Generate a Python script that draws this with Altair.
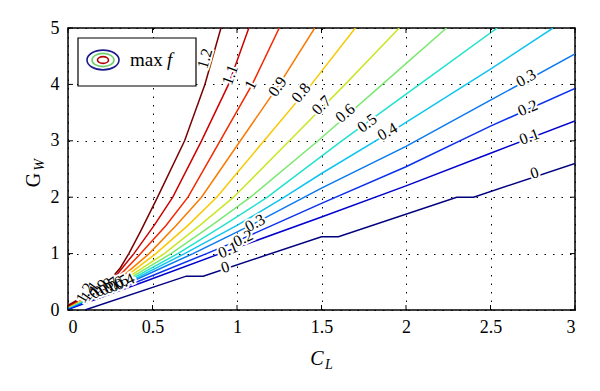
import altair as alt
import pandas as pd

# ---------------- data ----------------
level_names = ["0", "0.1", "0.2", "0.3", "0.4", "0.5", "0.6",
               "0.7", "0.8", "0.9", "1", "1.1", "1.2"]
level_colors = ["#00007F", "#0000CC", "#0A30F0", "#0A78F0", "#10C4F0", "#22E2CC",
                "#7AE870", "#CCE626", "#F8C800", "#FA7A00", "#F42800", "#CC0000", "#7A0000"]

c00_x = [0.1, 0.7, 0.8, 1.5, 1.6, 2.3, 2.4, 3.0]
c00_y = [0.0, 0.6, 0.6, 1.3, 1.3, 2.0, 2.0, 2.6]
c01_x = [0.0, 0.45, 0.9, 1.5, 2.0, 2.5, 3.0]
c01_y = [0.01, 0.5, 1.0, 1.65, 2.2, 2.78, 3.35]
c02_x = [0.0, 0.41, 0.82, 1.036, 1.5, 2.0, 2.5, 3.0]
c02_y = [0.02, 0.5, 1.0, 1.27, 1.89, 2.54, 3.26, 3.93]
c03_x = [0.0, 0.375, 0.74, 1.107, 1.5, 2.0, 2.5, 3.0]
c03_y = [0.03, 0.5, 1.0, 1.54, 2.16, 2.9, 3.72, 4.54]
c04_x = [0.0, 0.36, 0.69, 1.0, 1.28, 1.5, 1.96, 2.5, 2.87]
c04_y = [0.04, 0.5, 1.0, 1.5, 2.0, 2.42, 3.25, 4.27, 5.0]
c05_x = [0.0, 0.345, 0.65, 0.92, 1.18, 1.62, 2.08, 2.54]
c05_y = [0.045, 0.5, 1.0, 1.5, 2.0, 3.0, 4.0, 5.0]
c06_x = [0.0, 0.33, 0.61, 0.85, 1.08, 1.48, 1.86, 2.24]
c06_y = [0.05, 0.5, 1.0, 1.5, 2.0, 3.0, 4.0, 5.0]
c07_x = [0.0, 0.315, 0.57, 0.78, 0.98, 1.31, 1.64, 1.96]
c07_y = [0.055, 0.5, 1.0, 1.5, 2.0, 3.0, 4.0, 5.0]
c08_x = [0.0, 0.30, 0.52, 0.71, 0.88, 1.16, 1.44, 1.70]
c08_y = [0.06, 0.5, 1.0, 1.5, 2.0, 3.0, 4.0, 5.0]
c09_x = [0.0, 0.285, 0.48, 0.64, 0.79, 1.02, 1.25, 1.46]
c09_y = [0.065, 0.5, 1.0, 1.5, 2.0, 3.0, 4.0, 5.0]
c10_x = [0.0, 0.27, 0.43, 0.58, 0.71, 0.90, 1.09, 1.25]
c10_y = [0.07, 0.5, 1.0, 1.5, 2.0, 3.0, 4.0, 5.0]
c11_x = [0.0, 0.255, 0.39, 0.51, 0.62, 0.79, 0.95, 1.07]
c11_y = [0.075, 0.5, 1.0, 1.5, 2.0, 3.0, 4.0, 5.0]
c12_x = [0.0, 0.24, 0.31, 0.36, 0.43, 0.53, 0.69, 0.81, 0.905]
c12_y = [0.08, 0.5, 0.75, 1.0, 1.4, 2.0, 3.0, 4.0, 5.0]

x_ticks = [0, 0.5, 1, 1.5, 2, 2.5, 3]
y_ticks = [0, 1, 2, 3, 4, 5]

# contour labels: text, x, y, rotation (deg, clockwise)
lab_text = ["1.2", "1.1", "1", "0.9", "0.8", "0.7", "0.6", "0.5", "0.4",
            "0.3", "0.2", "0.1", "0",
            "0.3", "0.2", "0.1", "0",
            "1.2", "1.1", "1", "0.9", "0.8", "0.7", "0.6", "0.5", "0.4"]
lab_x = [0.81, 0.96, 1.08, 1.24, 1.38, 1.50, 1.64, 1.77, 1.89,
         2.71, 2.72, 2.73, 2.76,
         1.107, 1.036, 0.947, 0.93,
         0.10, 0.13, 0.155, 0.18, 0.21, 0.24, 0.27, 0.30, 0.335]
lab_y = [4.46, 4.17, 3.99, 3.96, 3.85, 3.63, 3.49, 3.31, 3.16,
         4.11, 3.58, 3.07, 2.43,
         1.54, 1.27, 1.06, 0.76,
         0.30, 0.33, 0.35, 0.37, 0.40, 0.42, 0.44, 0.47, 0.50]
lab_a = [286, 290, 297, 305, 310, 315, 319, 323, 330,
         331, 337, 339, 342,
         332, 335, 338, 342,
         300, 305, 310, 315, 320, 325, 330, 330, 335]

# ---------------- build tables ----------------
all_x = [c00_x, c01_x, c02_x, c03_x, c04_x, c05_x, c06_x, c07_x, c08_x, c09_x, c10_x, c11_x, c12_x]
all_y = [c00_y, c01_y, c02_y, c03_y, c04_y, c05_y, c06_y, c07_y, c08_y, c09_y, c10_y, c11_y, c12_y]
rows = []
for name, xs, ys in zip(level_names, all_x, all_y):
    for i, (x, y) in enumerate(zip(xs, ys)):
        rows.append({"level": name, "x": x, "y": y, "i": i})
df = pd.DataFrame(rows)
labels = pd.DataFrame({"t": lab_text, "x": lab_x, "y": lab_y, "a": lab_a})
xt = pd.DataFrame({"v": x_ticks})
yt = pd.DataFrame({"v": y_ticks})
one = pd.DataFrame({"k": [0]})

W, H = 507, 282
SERIF = "Liberation Serif"
xsc = alt.Scale(domain=[0, 3], nice=False, zero=False)
ysc = alt.Scale(domain=[0, 5], nice=False, zero=False)

grid_axis = dict(title=None, ticks=False, domain=False, grid=True, gridColor="black",
                 gridDash=[1.5, 7], gridWidth=1, gridOpacity=1,
                 labelFont=SERIF, labelFontSize=18, labelColor="black", format="~g")

lines = alt.Chart(df).mark_line(strokeWidth=1.5, clip=True).encode(
    x=alt.X("x:Q", scale=xsc, axis=alt.Axis(values=x_ticks, labelPadding=8, **grid_axis)),
    y=alt.Y("y:Q", scale=ysc, axis=alt.Axis(values=y_ticks, labelPadding=9, **grid_axis)),
    color=alt.Color("level:N", scale=alt.Scale(domain=level_names, range=level_colors), legend=None),
    order=alt.Order("i:Q"),
)

tk = dict(color="black", strokeWidth=1)
xb = alt.Chart(xt).mark_rule(**tk).encode(x=alt.X("v:Q", scale=xsc), y=alt.value(H), y2=alt.value(H - 5))
xtop = alt.Chart(xt).mark_rule(**tk).encode(x=alt.X("v:Q", scale=xsc), y=alt.value(0), y2=alt.value(5))
yl = alt.Chart(yt).mark_rule(**tk).encode(y=alt.Y("v:Q", scale=ysc), x=alt.value(0), x2=alt.value(5))
yr = alt.Chart(yt).mark_rule(**tk).encode(y=alt.Y("v:Q", scale=ysc), x=alt.value(W), x2=alt.value(W - 5))

halo = alt.Chart(labels).mark_text(font=SERIF, fontSize=16, color="white", stroke="white",
                                   strokeWidth=4).encode(
    x=alt.X("x:Q", scale=xsc), y=alt.Y("y:Q", scale=ysc), text="t:N",
    angle=alt.Angle("a:Q", scale=None))
txt = alt.Chart(labels).mark_text(font=SERIF, fontSize=16, color="black").encode(
    x=alt.X("x:Q", scale=xsc), y=alt.Y("y:Q", scale=ysc), text="t:N",
    angle=alt.Angle("a:Q", scale=None))

# legend box
box = alt.Chart(one).mark_rect(fill="white", stroke="black", strokeWidth=1.2).encode(
    x=alt.value(10), x2=alt.value(128), y=alt.value(10), y2=alt.value(58))


def ell(ratio):
    return f"M-1,0A1,{ratio},0,1,0,1,0A1,{ratio},0,1,0,-1,0Z"


e1 = alt.Chart(one).mark_point(shape=ell(0.62), filled=False, stroke="#1a1a8c", strokeWidth=1.6,
                               opacity=1).encode(x=alt.value(35), y=alt.value(32), size=alt.value(1024))
e2 = alt.Chart(one).mark_point(shape=ell(0.6), filled=False, stroke="#70d070", strokeWidth=1.6,
                               opacity=1).encode(x=alt.value(35), y=alt.value(32), size=alt.value(484))
e3 = alt.Chart(one).mark_point(shape=ell(0.62), filled=False, stroke="#b00000", strokeWidth=1.6,
                               opacity=1).encode(x=alt.value(35), y=alt.value(32), size=alt.value(121))
t_max = alt.Chart(one).mark_text(font=SERIF, fontSize=19, align="left", baseline="alphabetic",
                                 color="black").encode(x=alt.value(62), y=alt.value(38), text=alt.value("max"))
t_f = alt.Chart(one).mark_text(font=SERIF, fontSize=19, fontStyle="italic", align="left",
                               baseline="alphabetic", color="black").encode(
    x=alt.value(99), y=alt.value(38), text=alt.value("f"))

# axis titles
tc = alt.Chart(one).mark_text(font=SERIF, fontSize=20, fontStyle="italic", align="center",
                              baseline="alphabetic", color="black").encode(
    x=alt.value(249), y=alt.value(337), text=alt.value("C"))
tl = alt.Chart(one).mark_text(font=SERIF, fontSize=14, fontStyle="italic", align="center",
                              baseline="alphabetic", color="black").encode(
    x=alt.value(261), y=alt.value(341), text=alt.value("L"))
tg = alt.Chart(one).mark_text(font=SERIF, fontSize=20, align="center", baseline="alphabetic",
                              angle=270, color="black").encode(
    x=alt.value(-28), y=alt.value(152), text=alt.value("G"))
tw = alt.Chart(one).mark_text(font=SERIF, fontSize=14, fontStyle="italic", align="center",
                              baseline="alphabetic", angle=270, color="black").encode(
    x=alt.value(-24), y=alt.value(137), text=alt.value("W"))

chart = alt.layer(lines, xb, xtop, yl, yr, halo, txt, box, e1, e2, e3, t_max, t_f,
                  tc, tl, tg, tw).properties(
    width=W, height=H,
    padding={"left": 60, "top": 20, "right": 10, "bottom": 70},
    autosize=alt.AutoSizeParams(type="none"),
    background="white",
).configure_view(stroke="black", strokeWidth=1.5)

chart.save("out.html", embed_options={"renderer": "svg", "actions": False})
